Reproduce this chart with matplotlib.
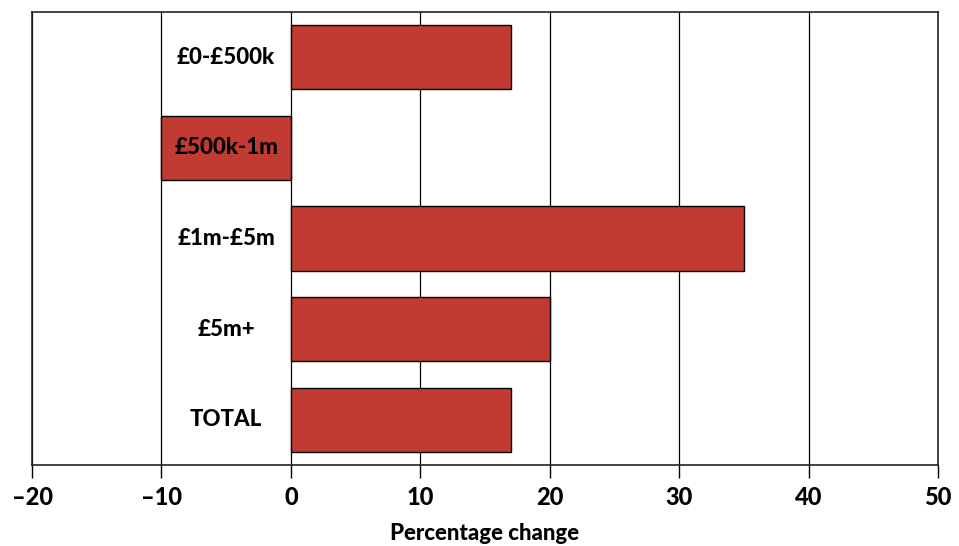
import matplotlib
matplotlib.use("Agg")
import matplotlib.pyplot as plt

categories = ["£0-£500k", "£500k-1m", "£1m-£5m", "£5m+", "TOTAL"]
values = [17, -10, 35, 20, 17]
xticks = [-20, -10, 0, 10, 20, 30, 40, 50]
xtick_labels = ["\u201320", "\u201310", "0", "10", "20", "30", "40", "50"]
xlabel = "Percentage change"

plt.rcParams['font.family'] = ['Lato', 'DejaVu Sans']

fig = plt.figure(figsize=(9.59, 5.46), dpi=100)
ax = fig.add_axes([32/959, 1 - 465/546, (938-32)/959, (465-12)/546])

ypos = list(range(len(categories)))
ax.barh(ypos, values, height=0.71, color="#C23B32", edgecolor="black", linewidth=1.0, zorder=3)

for y, c in zip(ypos, categories):
    ax.text(-5, y, c, ha="center", va="center",
            fontsize=16, fontweight="black", color="black", zorder=4)

ax.set_xlim(-20, 50)
ax.set_ylim(4.5, -0.5)
ax.set_xticks(xticks)
ax.set_xticklabels(xtick_labels, fontsize=17, fontweight="black")
ax.set_yticks([])
ax.xaxis.grid(True, color="black", linewidth=0.9, zorder=0)
ax.tick_params(axis="x", direction="out", length=9, width=1, pad=6)
for s in ax.spines.values():
    s.set_linewidth(1.2)
    s.set_color("#222222")
ax.set_xlabel(xlabel, fontsize=16, fontweight="black", labelpad=10)

fig.savefig("out.png", dpi=100)
